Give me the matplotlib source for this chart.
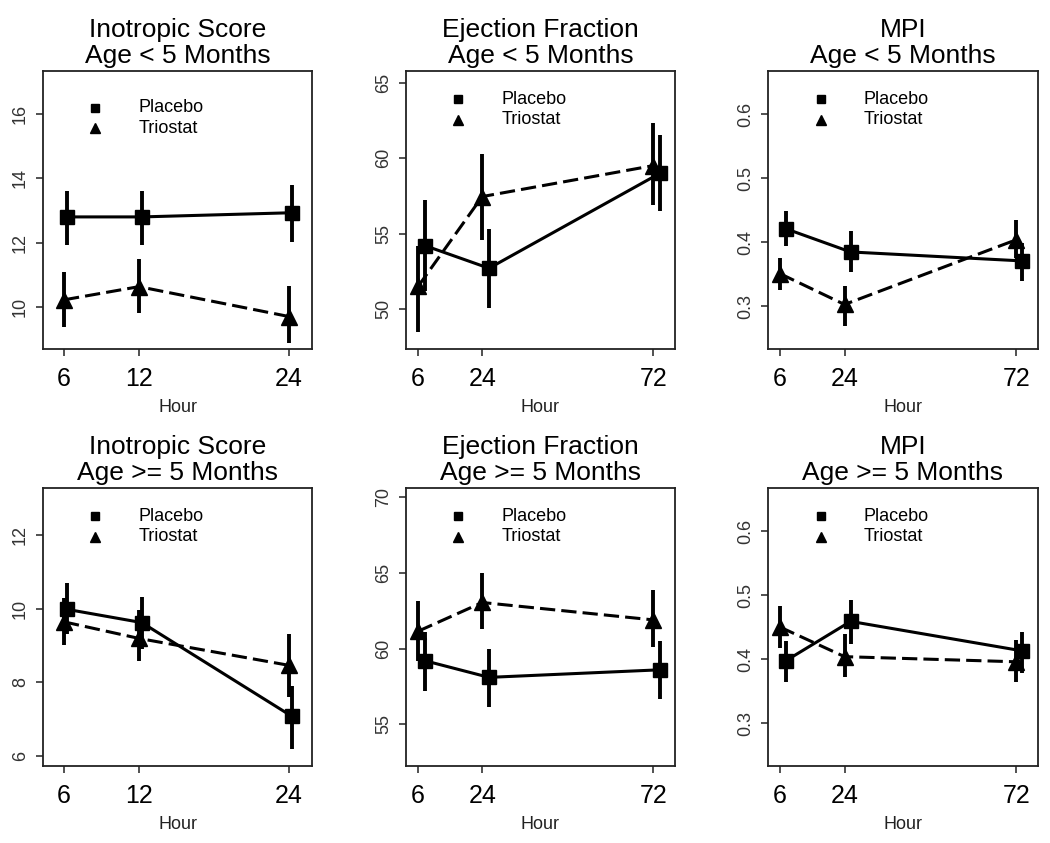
import matplotlib
matplotlib.use("Agg")
import numpy as np
import matplotlib.pyplot as plt

plt.rcParams['font.family'] = ['Liberation Sans', 'DejaVu Sans']

# hours of measurement
hours_ino = [6, 12, 24]
hours_echo = [6, 24, 72]

# Inotropic score, age < 5 months
ino_lt5_plac = [12.8, 12.8, 12.93]
ino_lt5_plac_lo = [11.94, 11.94, 12.02]
ino_lt5_plac_hi = [13.6, 13.6, 13.79]
ino_lt5_trio = [10.22, 10.63, 9.70]
ino_lt5_trio_lo = [9.38, 9.82, 8.87]
ino_lt5_trio_hi = [11.08, 11.49, 10.66]

# Ejection fraction, age < 5 months
ef_lt5_plac = [54.2, 52.7, 59.0]
ef_lt5_plac_lo = [51.2, 50.05, 56.5]
ef_lt5_plac_hi = [57.25, 55.3, 61.55]
ef_lt5_trio = [51.5, 57.45, 59.5]
ef_lt5_trio_lo = [48.5, 54.6, 56.9]
ef_lt5_trio_hi = [54.2, 60.25, 62.3]

# MPI, age < 5 months
mpi_lt5_plac = [0.421, 0.385, 0.371]
mpi_lt5_plac_lo = [0.395, 0.353, 0.339]
mpi_lt5_plac_hi = [0.449, 0.418, 0.399]
mpi_lt5_trio = [0.351, 0.303, 0.404]
mpi_lt5_trio_lo = [0.325, 0.269, 0.376]
mpi_lt5_trio_hi = [0.376, 0.332, 0.435]

# Inotropic score, age >= 5 months
ino_ge5_plac = [9.98, 9.62, 7.08]
ino_ge5_plac_lo = [9.3, 8.9, 6.2]
ino_ge5_plac_hi = [10.68, 10.32, 7.9]
ino_ge5_trio = [9.64, 9.19, 8.46]
ino_ge5_trio_lo = [9.0, 8.58, 7.6]
ino_ge5_trio_hi = [10.3, 9.95, 9.32]

# Ejection fraction, age >= 5 months
ef_ge5_plac = [59.2, 58.1, 58.6]
ef_ge5_plac_lo = [57.2, 56.15, 56.7]
ef_ge5_plac_hi = [61.1, 60.0, 60.5]
ef_ge5_trio = [61.15, 63.05, 61.9]
ef_ge5_trio_lo = [59.2, 61.3, 60.1]
ef_ge5_trio_hi = [63.15, 65.0, 63.9]

# MPI, age >= 5 months
mpi_ge5_plac = [0.398, 0.459, 0.413]
mpi_ge5_plac_lo = [0.365, 0.423, 0.378]
mpi_ge5_plac_hi = [0.429, 0.492, 0.443]
mpi_ge5_trio = [0.450, 0.404, 0.396]
mpi_ge5_trio_lo = [0.417, 0.372, 0.365]
mpi_ge5_trio_hi = [0.483, 0.440, 0.430]

titles = ["Inotropic Score", "Ejection Fraction", "MPI"]
subtitles = ["Age < 5 Months", "Age >= 5 Months"]
legend_labels = ["Placebo", "Triostat"]

panels = [
    # row, col, hours, dodge, xlim, ylim, yticks, plac, plac_lo, plac_hi, trio, trio_lo, trio_hi, legend y
    (0, 0, hours_ino, 0.25, (4.32, 25.84), (8.69, 17.34), [10, 12, 14, 16],
     ino_lt5_plac, ino_lt5_plac_lo, ino_lt5_plac_hi, ino_lt5_trio, ino_lt5_trio_lo, ino_lt5_trio_hi, 0.867),
    (0, 1, hours_echo, 1.9, (2.6, 78.1), (47.35, 65.77), [50, 55, 60, 65],
     ef_lt5_plac, ef_lt5_plac_lo, ef_lt5_plac_hi, ef_lt5_trio, ef_lt5_trio_lo, ef_lt5_trio_hi, 0.898),
    (0, 2, hours_echo, 1.7, (2.6, 78.1), (0.2335, 0.6675), [0.3, 0.4, 0.5, 0.6],
     mpi_lt5_plac, mpi_lt5_plac_lo, mpi_lt5_plac_hi, mpi_lt5_trio, mpi_lt5_trio_lo, mpi_lt5_trio_hi, 0.898),
    (1, 0, hours_ino, 0.22, (4.32, 25.84), (5.73, 13.27), [6, 8, 10, 12],
     ino_ge5_plac, ino_ge5_plac_lo, ino_ge5_plac_hi, ino_ge5_trio, ino_ge5_trio_lo, ino_ge5_trio_hi, 0.898),
    (1, 1, hours_echo, 1.9, (2.6, 78.1), (52.24, 70.62), [55, 60, 65, 70],
     ef_ge5_plac, ef_ge5_plac_lo, ef_ge5_plac_hi, ef_ge5_trio, ef_ge5_trio_lo, ef_ge5_trio_hi, 0.898),
    (1, 2, hours_echo, 1.7, (2.6, 78.1), (0.2335, 0.667), [0.3, 0.4, 0.5, 0.6],
     mpi_ge5_plac, mpi_ge5_plac_lo, mpi_ge5_plac_hi, mpi_ge5_trio, mpi_ge5_trio_lo, mpi_ge5_trio_hi, 0.898),
]

W, H = 1050, 843
cols_px = [(43, 312), (406, 675), (768, 1038)]
rows_px = [(71, 349), (488, 766)]

fig = plt.figure(figsize=(W / 100, H / 100), dpi=100)

for (r, c, hours, dodge, xlim, ylim, yticks,
     pm, plo, phi, tm, tlo, thi, leg_y) in panels:
    x0, x1 = cols_px[c]
    y0, y1 = rows_px[r]
    ax = fig.add_axes([x0 / W, 1 - y1 / H, (x1 - x0) / W, (y1 - y0) / H])

    hx = np.array(hours, dtype=float)
    px = hx + dodge
    pm, plo, phi = np.array(pm), np.array(plo), np.array(phi)
    tm, tlo, thi = np.array(tm), np.array(tlo), np.array(thi)

    ax.errorbar(px, pm, yerr=[pm - plo, phi - pm], fmt="none", ecolor="black",
                elinewidth=2.8, capsize=0, zorder=2)
    ax.errorbar(hx, tm, yerr=[tm - tlo, thi - tm], fmt="none", ecolor="black",
                elinewidth=2.8, capsize=0, zorder=2)
    ax.plot(px, pm, color="black", lw=2.2, marker="s", ms=9.5, zorder=3)
    ax.plot(hx, tm, color="black", lw=2.2, dashes=(5, 2), marker="^", ms=11.5, zorder=3)

    ax.set_xlim(xlim)
    ax.set_ylim(ylim)
    ax.set_xticks(hours)
    ax.set_xticklabels([str(h) for h in hours])
    ax.set_yticks(yticks)
    ax.set_yticklabels([("%g" % v) for v in yticks])

    for s in ax.spines.values():
        s.set_linewidth(1.3)
        s.set_color("#222222")
    ax.tick_params(axis="x", direction="out", length=5, width=1.1, labelsize=18, pad=8,
                   colors="#222222", labelcolor="black")
    ax.tick_params(axis="y", direction="out", length=5, width=1.1, labelsize=13, pad=5,
                   colors="#222222", labelcolor="#333333", labelrotation=90)
    for lab in ax.get_yticklabels():
        lab.set_va("center")

    # legend (markers only)
    ax.plot([0.195], [leg_y], marker="s", ms=5.5, color="black", transform=ax.transAxes,
            clip_on=False)
    ax.plot([0.195], [leg_y - 0.073], marker="^", ms=6.5, color="black", transform=ax.transAxes,
            clip_on=False)
    ax.text(0.355, leg_y, legend_labels[0], transform=ax.transAxes, fontsize=13,
            va="center", ha="left")
    ax.text(0.355, leg_y - 0.073, legend_labels[1], transform=ax.transAxes, fontsize=13,
            va="center", ha="left")

    # two-line title
    ax.text(0.5, 1.123, titles[c], transform=ax.transAxes, fontsize=19, ha="center",
            va="baseline")
    ax.text(0.5, 1.028, subtitles[r], transform=ax.transAxes, fontsize=19, ha="center",
            va="baseline")
    ax.text(0.5, -0.226, "Hour", transform=ax.transAxes, fontsize=13, ha="center",
            va="baseline", color="#222222")

fig.savefig("out.png", dpi=100)
